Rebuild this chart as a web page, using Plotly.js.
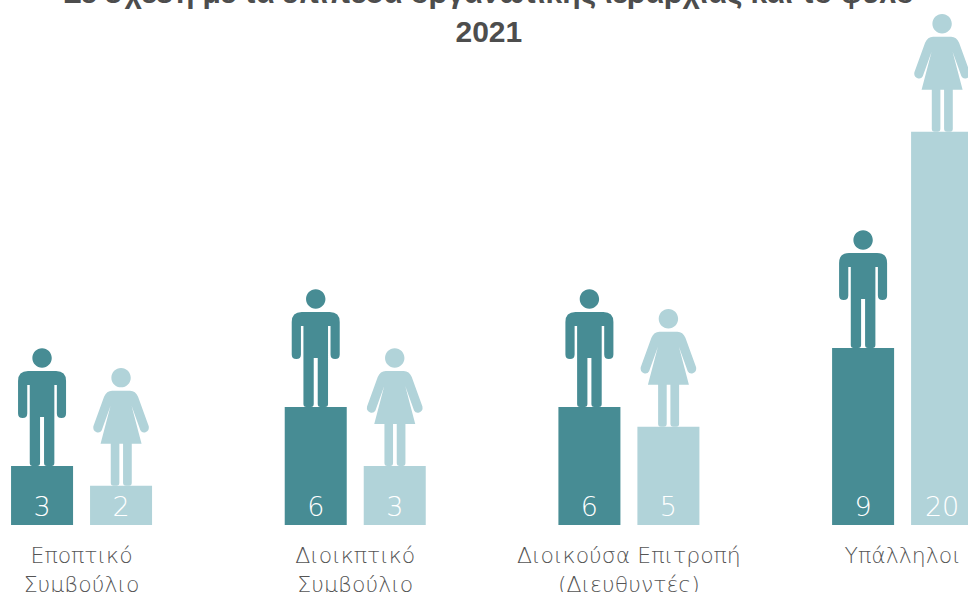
<!DOCTYPE html>
<html><head><meta charset="utf-8">
<script src="https://cdn.plot.ly/plotly-3.0.1.min.js"></script>
<style>html,body{margin:0;padding:0;background:#fff;overflow:hidden}</style></head>
<body><div id="chart" style="width:968px;height:592px"></div>
<script>
const categories = ["Εποπτικό<br>Συμβούλιο","Διοικπτικό<br>Συμβούλιο","Διοικούσα Επιτροπή<br>(Διευθυντές)","Υπάλληλοι"];
const men = [3,6,6,9];
const women = [2,3,5,20];
const positions = [0,1,2,3];
const titleText = "Σε σχέση με τα επίπεδα οργανωτικής ιεραρχίας και το φύλο<br>2021";
const colorMen = "#478c94", colorWomen = "#b1d3d9";

const SLOT = 79/273.67;
const head = "M-9.7,108 C-9.7,113.4 -5.4,117.7 0,117.7 C5.4,117.7 9.7,113.4 9.7,108 C9.7,102.6 5.4,98.3 0,98.3 C-5.4,98.3 -9.7,102.6 -9.7,108 Z ";
const manPath = head + "M-12.3,3 Q-12.3,0 -9.5,0 L-4.8,0 Q-2,0 -2,3 L-2,49 L2,49 L2,3 Q2,0 4.8,0 L9.5,0 Q12.3,0 12.3,3 L12.3,81 L14.8,81 L14.8,52.5 Q14.8,48 19.4,48 Q24,48 24,52.5 L24,85 Q24,95 14,95 L-14,95 Q-24,95 -24,85 L-24,52.5 Q-24,48 -19.4,48 Q-14.8,48 -14.8,52.5 L-14.8,81 L-12.3,81 Z";
const womanPath = head + "M-10.3,42 L-10.3,3 Q-10.3,0 -7.5,0 L-4.5,0 Q-1.7,0 -1.7,3 L-1.7,42 L2,42 L2,3 Q2,0 5,0 L8,0 Q10.7,0 10.7,3 L10.7,42 L20.5,42 L10.5,80 L19.3,55.5 Q21,52.5 24.5,53.5 Q28.5,55 27.7,59.5 L17,89 Q14.5,95 9,95 L-9,95 Q-14.5,95 -17,89 L-27.7,59.5 Q-28.5,55 -24.5,53.5 Q-21,52.5 -19.3,55.5 L-10.5,80 L-20.5,42 Z";

function icon(path,color,x,v){
  return {type:"path",layer:"above",xref:"x",yref:"y",xsizemode:"pixel",ysizemode:"pixel",
    xanchor:x,yanchor:v,path:path,fillcolor:color,line:{width:0}};
}
const shapes = [];
positions.forEach((p,i)=>{
  shapes.push(icon(manPath,colorMen,p-SLOT/2,men[i]));
  shapes.push(icon(womanPath,colorWomen,p+SLOT/2,women[i]));
});
const barFont = {family:"'DejaVu Sans ExtraLight','DejaVu Sans'",size:27,color:"#ffffff",weight:200};
function bars(name,vals,color){
  return {type:"bar",name:name,x:positions,y:vals,marker:{color:color,line:{width:0}},
    text:vals.map(String),textposition:"inside",insidetextanchor:"start",textangle:0,
    constraintext:"none",insidetextfont:barFont,hoverinfo:"x+y"};
}
const data = [bars("Άνδρες",men,colorMen),bars("Γυναίκες",women,colorWomen)];
const layout = {
  width:968,height:592,margin:{l:0,r:0,t:0,b:67},paper_bgcolor:"#fff",plot_bgcolor:"#fff",
  showlegend:false,barmode:"group",bargap:0.4227,bargroupgap:0.215,
  title:{text:titleText,x:0.505,xanchor:"center",y:0.995,yanchor:"middle",yref:"container",
    font:{family:"'Liberation Sans'",size:30,color:"#4d4d4d",weight:700}},
  xaxis:{range:[-0.298,3.239],tickmode:"array",tickvals:positions,ticktext:categories,
    showgrid:false,zeroline:false,showline:false,ticks:"",ticklabelstandoff:15,
    tickfont:{family:"'DejaVu Sans ExtraLight','DejaVu Sans'",size:22,color:"#555555",weight:200}},
  yaxis:{range:[0,26.7],visible:false,fixedrange:true},
  shapes:shapes
};
Plotly.newPlot("chart",data,layout,{displayModeBar:false,staticPlot:true});
</script></body></html>
